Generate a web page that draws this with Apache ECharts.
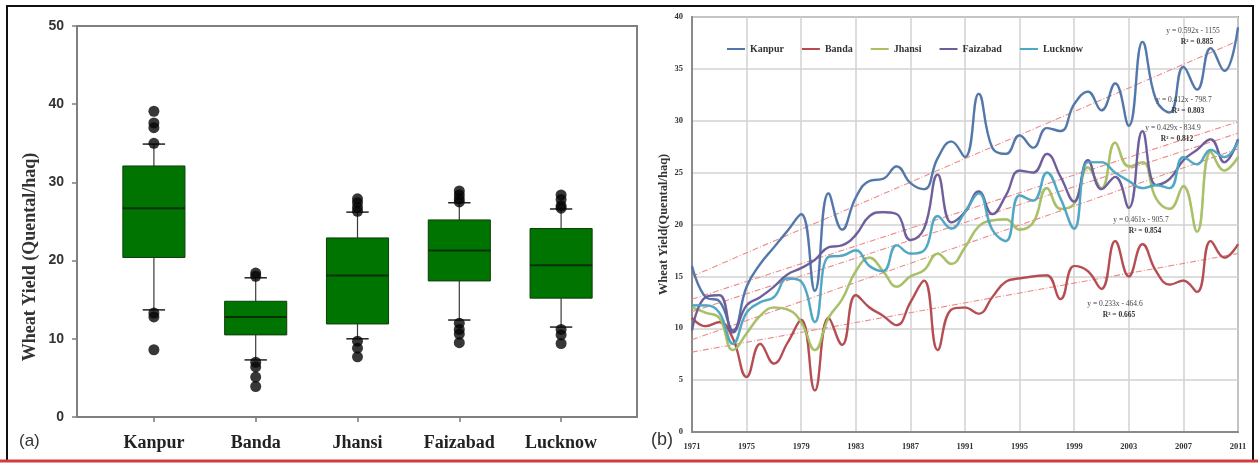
<!DOCTYPE html>
<html>
<head>
<meta charset="utf-8">
<script src="https://cdn.jsdelivr.net/npm/echarts@6/dist/echarts.min.js"></script>
<style>
html,body{margin:0;padding:0;background:#fff;}
#chart{width:1258px;height:463px;}
</style>
</head>
<body>
<div id="chart"></div>
<script>
// ---------- Panel (a): box plot ----------
const categories = ['Kanpur', 'Banda', 'Jhansi', 'Faizabad', 'Lucknow'];
const whiskerLow  = [13.7, 7.3, 10.0, 12.4, 11.5];
const quartile1   = [20.4, 10.5, 11.9, 17.4, 15.2];
const medians     = [26.7, 12.8, 18.1, 21.3, 19.4];
const quartile3   = [32.1, 14.8, 22.9, 25.2, 24.1];
const whiskerHigh = [34.9, 17.8, 26.2, 27.4, 26.6];
const outliersKanpur   = [39.1, 37.6, 37.0, 35.0, 13.3, 12.8, 8.6];
const outliersBanda    = [18.4, 18.0, 7.0, 6.4, 5.1, 3.9];
const outliersJhansi   = [27.9, 27.4, 26.8, 26.3, 9.7, 8.8, 7.7];
const outliersFaizabad = [28.9, 28.4, 27.9, 27.5, 12.0, 11.2, 10.6, 9.5];
const outliersLucknow  = [28.4, 27.8, 27.0, 26.7, 11.2, 10.5, 9.4];

// ---------- Panel (b): time series ----------
const years = ['1971','1972','1973','1974','1975','1976','1977','1978','1979','1980',
               '1981','1982','1983','1984','1985','1986','1987','1988','1989','1990',
               '1991','1992','1993','1994','1995','1996','1997','1998','1999','2000',
               '2001','2002','2003','2004','2005','2006','2007','2008','2009','2010','2011'];
const kanpur   = [16.0,13.0,12.6,9.8,14.0,16.2,17.8,19.4,21.0,13.6,
                  23.0,19.5,22.6,24.2,24.4,25.6,24.0,23.4,26.4,28.0,
                  26.5,32.6,27.4,26.8,28.6,27.4,29.3,29.0,31.6,32.8,
                  31.0,33.6,29.5,37.6,32.0,30.8,35.2,33.0,37.0,34.8,39.0];
const banda    = [11.0,10.2,10.6,9.0,5.3,8.5,6.6,8.6,10.8,4.0,
                  11.0,8.4,13.2,12.0,11.2,10.3,12.5,14.6,7.9,11.8,
                  12.0,11.4,13.0,14.5,14.8,15.0,15.1,12.8,16.0,15.5,
                  13.8,18.4,15.0,18.1,15.5,14.2,14.6,13.5,18.4,16.8,18.1];
const jhansi   = [12.0,11.5,11.0,7.9,9.5,11.2,12.0,11.8,10.6,7.9,
                  11.0,12.8,15.5,16.8,15.5,14.0,15.0,15.6,17.2,16.2,
                  17.8,19.8,20.4,20.5,19.5,20.2,23.5,21.5,22.0,25.5,
                  23.5,27.9,25.6,26.0,22.5,21.5,23.7,19.3,27.0,25.2,26.5];
const faizabad = [9.8,13.0,13.2,9.6,12.2,13.0,14.0,15.2,15.8,16.6,
                  17.8,18.0,19.0,20.8,21.2,21.0,18.5,19.6,24.8,20.2,
                  21.2,23.2,21.0,22.8,25.2,25.0,26.8,24.6,22.2,26.2,
                  23.4,24.6,21.6,29.0,23.8,24.4,26.2,27.2,28.2,26.0,28.2];
const lucknow  = [12.2,12.2,11.5,8.5,11.5,12.5,13.0,14.8,14.5,10.6,
                  16.9,17.0,17.5,16.0,15.5,18.0,17.2,17.5,20.8,19.6,
                  21.2,23.0,19.5,18.4,22.8,22.3,25.0,22.5,19.6,26.0,
                  26.0,25.0,24.2,23.5,23.8,23.5,26.5,25.8,27.2,26.5,28.0];
// trend line end values [1971, 2011]
const trendKanpur   = [15.0, 37.7];
const trendBanda    = [7.7, 17.2];
const trendJhansi   = [8.9, 27.3];
const trendFaizabad = [12.8, 29.9];
const trendLucknow  = [11.6, 28.8];
const trendEquations = ['y = 0.592x - 1155', 'y = 0.412x - 798.7', 'y = 0.429x - 834.9', 'y = 0.461x - 905.7', 'y = 0.233x - 464.6'];
const trendR2 = ['R² = 0.885', 'R² = 0.803', 'R² = 0.812', 'R² = 0.854', 'R² = 0.665'];

const seriesNames = ['Kanpur', 'Banda', 'Jhansi', 'Faizabad', 'Lucknow'];
const seriesData = [kanpur, banda, jhansi, faizabad, lucknow];
const trendData = [trendKanpur, trendBanda, trendJhansi, trendFaizabad, trendLucknow];
const lineColors = ['#4f77ad', '#b84a50', '#a7c25e', '#6f5c9e', '#4aa9c8'];

const chart = echarts.init(document.getElementById('chart'), null, {renderer: 'canvas'});

const boxData = categories.map((c, i) => [i, whiskerLow[i], quartile1[i], medians[i], quartile3[i], whiskerHigh[i]]);
const outlierLists = [outliersKanpur, outliersBanda, outliersJhansi, outliersFaizabad, outliersLucknow];
const outlierData = [];
outlierLists.forEach((list, i) => list.forEach(v => outlierData.push([i, v])));

function renderBox(params, api) {
  const x = api.value(0);
  const low = api.coord([x, api.value(1)]);
  const q1 = api.coord([x, api.value(2)]);
  const med = api.coord([x, api.value(3)]);
  const q3 = api.coord([x, api.value(4)]);
  const high = api.coord([x, api.value(5)]);
  const bw = api.size([1, 0])[0] * 0.61;
  const cw = bw * 0.36;
  const cx = low[0];
  const wStyle = {stroke: '#3a3a3a', lineWidth: 1.2};
  return {
    type: 'group',
    children: [
      {type: 'line', shape: {x1: cx, y1: high[1], x2: cx, y2: q3[1]}, style: wStyle},
      {type: 'line', shape: {x1: cx, y1: q1[1], x2: cx, y2: low[1]}, style: wStyle},
      {type: 'line', shape: {x1: cx - cw / 2, y1: high[1], x2: cx + cw / 2, y2: high[1]}, style: {stroke: '#222', lineWidth: 1.5}},
      {type: 'line', shape: {x1: cx - cw / 2, y1: low[1], x2: cx + cw / 2, y2: low[1]}, style: {stroke: '#222', lineWidth: 1.5}},
      {type: 'rect', shape: {x: cx - bw / 2, y: q3[1], width: bw, height: q1[1] - q3[1]}, style: {fill: '#007400', stroke: '#0d3d0d', lineWidth: 1}},
      {type: 'line', shape: {x1: cx - bw / 2, y1: med[1], x2: cx + bw / 2, y2: med[1]}, style: {stroke: '#0a300a', lineWidth: 2}}
    ]
  };
}

const serif = 'Liberation Serif';
const series = [
  {
    type: 'custom', name: 'box', xAxisIndex: 1, yAxisIndex: 1,
    renderItem: renderBox, data: boxData, encode: {x: 0, y: [1, 2, 3, 4, 5]}, z: 2
  },
  {
    type: 'scatter', name: 'outliers', xAxisIndex: 1, yAxisIndex: 1,
    data: outlierData, symbolSize: 11, itemStyle: {color: '#050505'}, z: 3
  }
];
seriesNames.forEach((n, i) => {
  series.push({
    type: 'line', name: n, xAxisIndex: 2, yAxisIndex: 2,
    data: seriesData[i], smooth: 0.45, symbol: 'none',
    lineStyle: {color: lineColors[i], width: 2.2, shadowColor: 'rgba(0,0,0,0.25)', shadowBlur: 1},
    itemStyle: {color: lineColors[i]}, z: 4
  });
});
seriesNames.forEach((n, i) => {
  series.push({
    type: 'line', name: n + ' trend', xAxisIndex: 2, yAxisIndex: 2,
    data: [[years[0], trendData[i][0]], [years[years.length - 1], trendData[i][1]]],
    symbol: 'none', silent: true,
    lineStyle: {color: '#ee8a8a', width: 1.1, type: [6, 2, 1, 2]}, z: 3
  });
});

const eqPos = [[1193, 27], [1184, 96], [1173, 124], [1141, 216], [1115, 300]];
const graphics = [
  {type: 'polyline', shape: {points: [[7, 461], [7, 6], [1253, 6], [1253, 461]]}, style: {stroke: '#111', lineWidth: 2, fill: null}, z: 10},
  {type: 'line', shape: {x1: 0, y1: 461, x2: 1258, y2: 461}, style: {stroke: '#d23b3f', lineWidth: 3}, z: 10},
  {type: 'text', left: 19, top: 433, style: {text: '(a)', font: '17px "Liberation Sans"', fill: '#333'}, z: 10},
  {type: 'text', left: 651, top: 431, style: {text: '(b)', font: '18px "Liberation Sans"', fill: '#333'}, z: 10},
  {type: 'text', x: 30, y: 257, rotation: Math.PI / 2,
   style: {text: 'Wheat Yield (Quental/haq)', font: 'bold 18px "Liberation Serif"', fill: '#333', textAlign: 'center', textVerticalAlign: 'middle'}, z: 10}
];
trendEquations.forEach((t, i) => {
  graphics.push({type: 'text', x: eqPos[i][0], y: eqPos[i][1], style: {text: t, font: '7.5px "Liberation Serif"', fill: '#444', textAlign: 'center'}, z: 10});
  graphics.push({type: 'text', x: eqPos[i][0] + 4, y: eqPos[i][1] + 11, style: {text: trendR2[i], font: 'bold 7.5px "Liberation Serif"', fill: '#333', textAlign: 'center'}, z: 10});
});

const option = {
  animation: false,
  backgroundColor: '#fff',
  grid: [
    {left: 77, top: 26, right: 621, bottom: 46, show: true, borderColor: '#7f7f7f', borderWidth: 2},
    {left: 103, top: 26, right: 646, bottom: 46},
    {left: 692, top: 17, right: 20, bottom: 31, show: true, borderColor: '#9a9a9a', borderWidth: 2}
  ],
  xAxis: [
    {gridIndex: 0, type: 'value', min: 0, max: 1, axisLine: {show: true, lineStyle: {color: '#7f7f7f', width: 2}}, axisTick: {show: false}, axisLabel: {show: false}, splitLine: {show: false}},
    {gridIndex: 1, type: 'category', data: categories, boundaryGap: true,
     axisLine: {show: false}, axisTick: {show: true, alignWithLabel: true, length: 5, lineStyle: {color: '#777', width: 1.5}},
     axisLabel: {fontFamily: serif, fontWeight: 'bold', fontSize: 18, color: '#222', margin: 17}},
    {gridIndex: 2, type: 'category', data: years, boundaryGap: false,
     axisLine: {show: true, lineStyle: {color: '#8a8a8a', width: 2}}, axisTick: {show: false},
     axisLabel: {interval: 3, fontFamily: serif, fontWeight: 'bold', fontSize: 8.5, color: '#333', margin: 10},
     splitLine: {show: true, interval: 3, lineStyle: {color: '#d2d2d2', width: 1.5}}}
  ],
  yAxis: [
    {gridIndex: 0, type: 'value', min: 0, max: 50, interval: 10,
     axisLine: {show: true, lineStyle: {color: '#7f7f7f', width: 2}},
     axisTick: {show: true, length: 5, lineStyle: {color: '#7f7f7f', width: 1.5}},
     axisLabel: {fontFamily: 'Liberation Sans', fontWeight: 'bold', fontSize: 14, color: '#333', margin: 13},
     splitLine: {show: false}},
    {gridIndex: 1, type: 'value', min: 0, max: 50, interval: 10, show: false},
    {gridIndex: 2, type: 'value', min: 0, max: 40, interval: 5,
     axisLine: {show: true, lineStyle: {color: '#8a8a8a', width: 2}}, axisTick: {show: false},
     axisLabel: {fontFamily: serif, fontWeight: 'bold', fontSize: 8.5, color: '#333', margin: 9},
     splitLine: {show: true, lineStyle: {color: '#d2d2d2', width: 1.5}},
     name: 'Wheat Yield(Quental/haq)', nameLocation: 'middle', nameGap: 22,
     nameTextStyle: {fontFamily: serif, fontWeight: 'bold', fontSize: 12.5, color: '#333'}}
  ],
  legend: {
    data: seriesNames, left: 722, top: 39, itemWidth: 18, itemHeight: 2, itemGap: 18, icon: 'rect',
    textStyle: {fontFamily: serif, fontWeight: 'bold', fontSize: 10, color: '#333'}
  },
  graphic: graphics,
  series: series
};
chart.setOption(option);
</script>
</body>
</html>
